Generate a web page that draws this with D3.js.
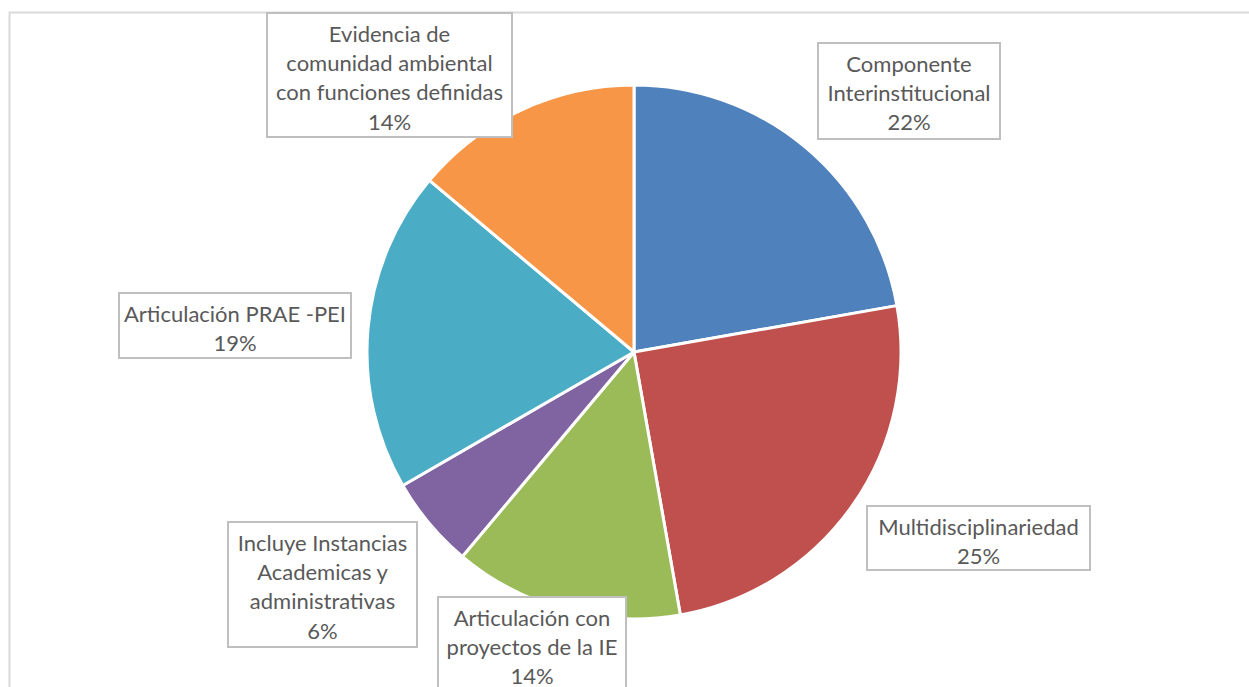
<!DOCTYPE html>
<html>
<head>
<meta charset="utf-8">
<script src="https://cdn.jsdelivr.net/npm/d3@7"></script>
<style>
	body { margin: 0; background: #fff; }
	svg { display: block; }
</style>
</head>
<body>
<svg id="chart"></svg>
<script>
// data: counts (total 36)
const categories = [
	'Componente Interinstitucional',
	'Multidisciplinariedad',
	'Articulación con proyectos de la IE',
	'Incluye Instancias Academicas y administrativas',
	'Articulación PRAE -PEI',
	'Evidencia de comunidad ambiental con funciones definidas',
];
const values = [8, 9, 5, 2, 7, 5];
const labelLines = [
	['Componente', 'Interinstitucional'],
	['Multidisciplinariedad'],
	['Articulación con', 'proyectos de la IE'],
	['Incluye Instancias', 'Academicas y', 'administrativas'],
	['Articulación PRAE -PEI'],
	['Evidencia de', 'comunidad ambiental', 'con funciones definidas'],
];

const colors = ['#4f81bd', '#c0504d', '#9bbb59', '#8064a2', '#4bacc6', '#f79646'];

// label box layout: [left, top, right, bottom]
const boxes = [
	[818, 43, 1000, 139],
	[867, 506, 1090, 570],
	[438, 597, 626, 706],
	[228, 522, 417, 647],
	[119, 293, 351, 358],
	[267, 13, 512, 137],
];

const width = 1249;
const height = 687;
const cx = 634;
const cy = 352;
const radius = 267;
const lineH = 29.3;

const svg = d3.select('#chart')
	.attr('width', width)
	.attr('height', height);

// outer frame of the chart area
svg.append('rect')
	.attr('x', 9.5)
	.attr('y', 12.5)
	.attr('width', width + 20)
	.attr('height', height + 20)
	.attr('fill', 'none')
	.attr('stroke', '#d9d9d9')
	.attr('stroke-width', 2);

const pie = d3.pie().sort(null).value(d => d);
const arcs = pie(values);
const arc = d3.arc().innerRadius(0).outerRadius(radius);
const total = d3.sum(values);

svg.append('g')
	.attr('transform', `translate(${cx},${cy})`)
	.selectAll('path')
	.data(arcs)
	.enter()
	.append('path')
	.attr('d', arc)
	.attr('fill', (d, i) => colors[i])
	.attr('stroke', '#fff')
	.attr('stroke-width', 3)
	.attr('stroke-linejoin', 'round');

const labels = svg.append('g').selectAll('g')
	.data(arcs)
	.enter()
	.append('g');

labels.append('rect')
	.attr('x', (d, i) => boxes[i][0])
	.attr('y', (d, i) => boxes[i][1])
	.attr('width', (d, i) => boxes[i][2] - boxes[i][0])
	.attr('height', (d, i) => boxes[i][3] - boxes[i][1])
	.attr('fill', '#fff')
	.attr('stroke', '#bfbfbf')
	.attr('stroke-width', 2);

labels.each(function(d, i) {
	const g = d3.select(this);
	const lines = labelLines[i].concat([d3.format('.0%')(d.value / total)]);
	const b = boxes[i];
	const midX = (b[0] + b[2]) / 2;
	const firstY = b[1] + 21;
	const text = g.append('text')
		.attr('text-anchor', 'middle')
		.attr('font-family', 'Lato, "Open Sans", sans-serif')
		.attr('font-size', 22)
		.attr('fill', '#595959');
	lines.forEach((line, j) => {
		text.append('tspan')
			.attr('x', midX)
			.attr('y', firstY + j * lineH)
			.attr('dy', '0.35em')
			.text(line);
	});
});
</script>
</body>
</html>
